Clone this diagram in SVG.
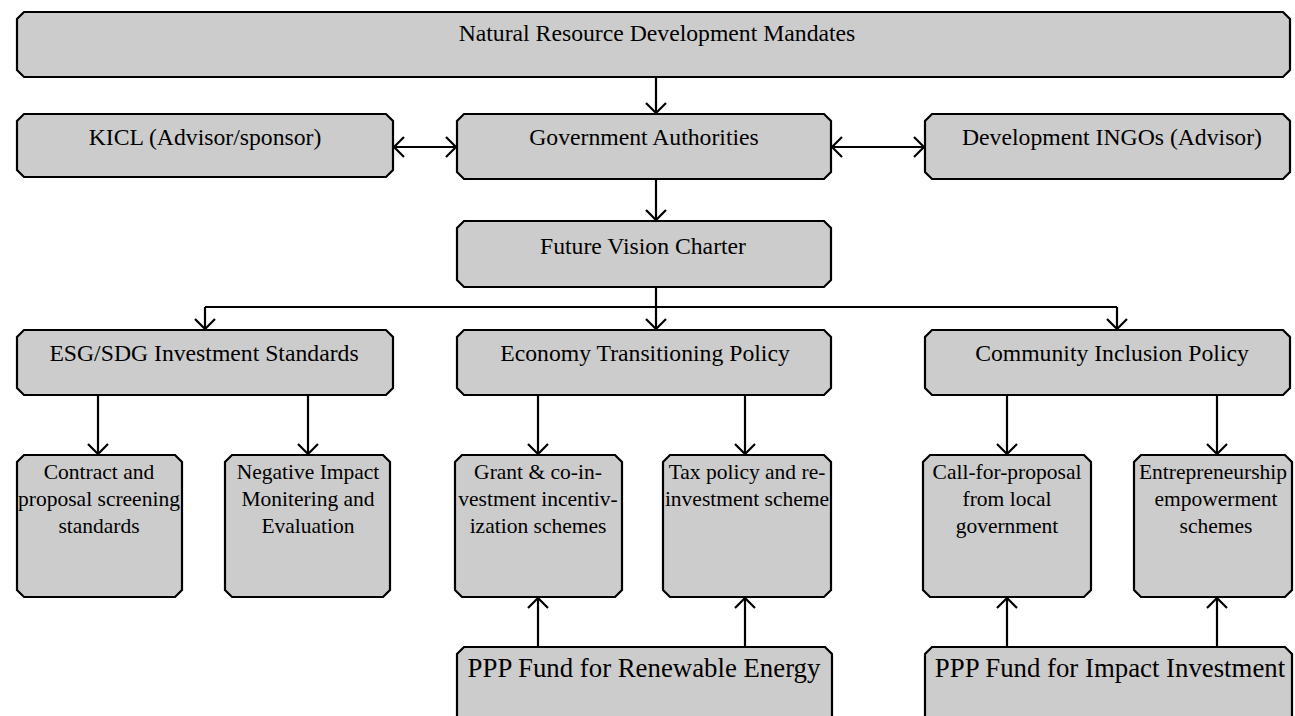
<svg xmlns="http://www.w3.org/2000/svg" width="1295" height="716" viewBox="0 0 1295 716">
<defs>
<style>
.box{fill:#cccccc;stroke:#000;stroke-width:2.2;}
.t{font-family:"Liberation Serif","Times New Roman",serif;font-size:23.7px;fill:#000;text-anchor:middle;}
.s{font-family:"Liberation Serif","Times New Roman",serif;font-size:21.5px;fill:#000;text-anchor:middle;}
.b{font-family:"Liberation Serif","Times New Roman",serif;font-size:26.8px;fill:#000;text-anchor:middle;}
.c{fill:none;stroke:#000;stroke-width:2.2;}
</style>
<marker id="ah" viewBox="0 0 12 22" refX="11" refY="11" markerWidth="12" markerHeight="22" markerUnits="userSpaceOnUse" orient="auto-start-reverse">
<path d="M1,1 L11,11 L1,21" fill="none" stroke="#000" stroke-width="2.2"/>
</marker>
</defs>
<rect width="1295" height="716" fill="#fff"/>
<g id="connectors">
<path class="c" d="M656,77 V113" marker-end="url(#ah)"/>
<path class="c" d="M394,147 H456" marker-start="url(#ah)" marker-end="url(#ah)"/>
<path class="c" d="M832,147 H924" marker-start="url(#ah)" marker-end="url(#ah)"/>
<path class="c" d="M656,179 V220" marker-end="url(#ah)"/>
<path class="c" d="M656,287 V307 M205,307 H1117"/>
<path class="c" d="M205,307 V329" marker-end="url(#ah)"/>
<path class="c" d="M656,307 V329" marker-end="url(#ah)"/>
<path class="c" d="M1117,307 V329" marker-end="url(#ah)"/>
<path class="c" d="M98,395 V454" marker-end="url(#ah)"/>
<path class="c" d="M308,395 V454" marker-end="url(#ah)"/>
<path class="c" d="M538,395 V454" marker-end="url(#ah)"/>
<path class="c" d="M745,395 V454" marker-end="url(#ah)"/>
<path class="c" d="M1007,395 V454" marker-end="url(#ah)"/>
<path class="c" d="M1217,395 V454" marker-end="url(#ah)"/>
<path class="c" d="M538,647 V598" marker-end="url(#ah)"/>
<path class="c" d="M745,647 V598" marker-end="url(#ah)"/>
<path class="c" d="M1007,647 V598" marker-end="url(#ah)"/>
<path class="c" d="M1217,647 V598" marker-end="url(#ah)"/>
</g>
<g id="n-mandates">
<path class="box" d="M24,12 H1283 L1290,19 V70 L1283,77 H24 L17,70 V19 Z"/>
<text class="t" x="657" y="41">Natural Resource Development Mandates</text>
</g>
<g id="n-kicl">
<path class="box" d="M24,114 H386 L393,121 V170 L386,177 H24 L17,170 V121 Z"/>
<text class="t" x="205" y="145">KICL (Advisor/sponsor)</text>
</g>
<g id="n-gov">
<path class="box" d="M464,114 H824 L831,121 V172 L824,179 H464 L457,172 V121 Z"/>
<text class="t" x="644" y="145">Government Authorities</text>
</g>
<g id="n-ingo">
<path class="box" d="M932,114 H1283 L1290,121 V172 L1283,179 H932 L925,172 V121 Z"/>
<text class="t" x="1112" y="145">Development INGOs (Advisor)</text>
</g>
<g id="n-future">
<path class="box" d="M464,221 H824 L831,228 V280 L824,287 H464 L457,280 V228 Z"/>
<text class="t" x="643" y="254">Future Vision Charter</text>
</g>
<g id="n-esg">
<path class="box" d="M24,330 H386 L393,337 V388 L386,395 H24 L17,388 V337 Z"/>
<text class="t" x="204" y="361">ESG/SDG Investment Standards</text>
</g>
<g id="n-econ">
<path class="box" d="M464,330 H824 L831,337 V388 L824,395 H464 L457,388 V337 Z"/>
<text class="t" x="645" y="361">Economy Transitioning Policy</text>
</g>
<g id="n-comm">
<path class="box" d="M932,330 H1283 L1290,337 V388 L1283,395 H932 L925,388 V337 Z"/>
<text class="t" x="1112" y="361">Community Inclusion Policy</text>
</g>
<g id="n-contract">
<path class="box" d="M24,455 H175 L182,462 V590 L175,597 H24 L17,590 V462 Z"/>
<text class="s" x="99" y="479">Contract and</text>
<text class="s" x="99" y="506">proposal screening</text>
<text class="s" x="99" y="533">standards</text>
</g>
<g id="n-negative">
<path class="box" d="M232,455 H383 L390,462 V590 L383,597 H232 L225,590 V462 Z"/>
<text class="s" x="308" y="479">Negative Impact</text>
<text class="s" x="308" y="506">Monitering and</text>
<text class="s" x="308" y="533">Evaluation</text>
</g>
<g id="n-grant">
<path class="box" d="M462,455 H615 L622,462 V590 L615,597 H462 L455,590 V462 Z"/>
<text class="s" x="538" y="479">Grant &amp; co-in-</text>
<text class="s" x="538" y="506">vestment incentiv-</text>
<text class="s" x="538" y="533">ization schemes</text>
</g>
<g id="n-tax">
<path class="box" d="M670,455 H824 L831,462 V590 L824,597 H670 L663,590 V462 Z"/>
<text class="s" x="747" y="479">Tax policy and re-</text>
<text class="s" x="747" y="506">investment scheme</text>
</g>
<g id="n-call">
<path class="box" d="M930,455 H1084 L1091,462 V590 L1084,597 H930 L923,590 V462 Z"/>
<text class="s" x="1007" y="479">Call-for-proposal</text>
<text class="s" x="1007" y="506">from local</text>
<text class="s" x="1007" y="533">government</text>
</g>
<g id="n-entre">
<path class="box" d="M1141,455 H1285 L1292,462 V590 L1285,597 H1141 L1134,590 V462 Z"/>
<text class="s" x="1213" y="479">Entrepreneurship</text>
<text class="s" x="1216" y="506">empowerment</text>
<text class="s" x="1216" y="533">schemes</text>
</g>
<g id="n-ppp1">
<path class="box" d="M464,647 H825 L832,654 V722 H457 V654 Z"/>
<text class="b" x="644" y="677">PPP Fund for Renewable Energy</text>
</g>
<g id="n-ppp2">
<path class="box" d="M932,647 H1285 L1292,654 V722 H925 V654 Z"/>
<text class="b" x="1110" y="677">PPP Fund for Impact Investment</text>
</g>
</svg>
